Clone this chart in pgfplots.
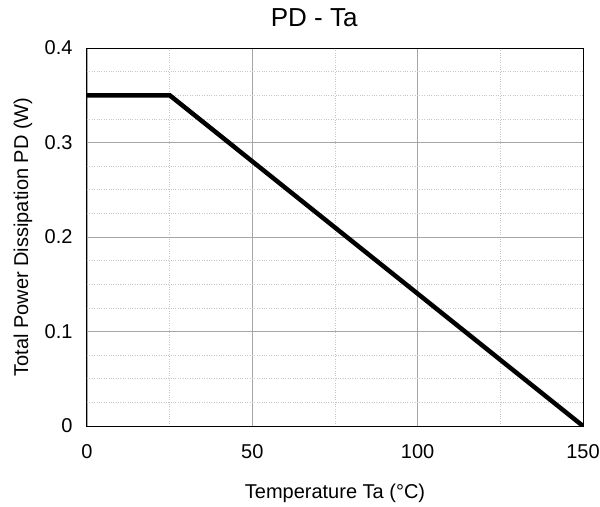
\documentclass[border=0pt]{standalone}
\usepackage{fontspec}
\setmainfont{Liberation Sans}
\usepackage{pgfplots}
\pgfplotsset{compat=1.18}
\usetikzlibrary{calc}
\newcommand{\chartfont}{\fontsize{20bp}{24bp}\selectfont}

\begin{document}
\begin{tikzpicture}
    \begin{axis}[
        scale only axis,
        width=496bp,
        height=378bp,
        xmin=0, xmax=150,
        ymin=0, ymax=0.4,
        xtick={0,50,100,150},
        ytick={0,0.1,0.2,0.3,0.4},
        minor x tick num=1,
        minor y tick num=3,
        grid=both,
        major grid style={gray!70, line width=0.8bp},
        minor grid style={gray!45, dotted, line width=0.7bp},
        tick style={draw=none},
        axis line style={black, line width=1bp},
        /pgf/number format/assume math mode=true,
        yticklabel style={/pgf/number format/fixed, /pgf/number format/precision=1, font=\chartfont, xshift=-11bp},
        xticklabel style={font=\chartfont, yshift=-15bp},
        title={PD - Ta},
        title style={font=\fontsize{26bp}{30bp}\selectfont, at={(axis description cs:0.458,1.065)}, anchor=center},
        xlabel={Temperature Ta (°C)},
        xlabel style={font=\chartfont, at={(axis description cs:0.5,-0.177)}, anchor=center},
        ylabel={Total Power Dissipation PD (W)},
        ylabel style={font=\chartfont, at={(axis description cs:-0.129,0.5)}, anchor=center},
    ]

    % derating curve
    \addplot[black, line width=4.5bp, line join=miter] coordinates {
        (0, 0.35)
        (25, 0.35)
        (150, 0)
    };

    \end{axis}
    \pgfresetboundingbox
    \useasboundingbox ($(current axis.south west)+(-87bp,-81bp)$) rectangle ($(current axis.north east)+(17bp,48bp)$);
\end{tikzpicture}
\end{document}
